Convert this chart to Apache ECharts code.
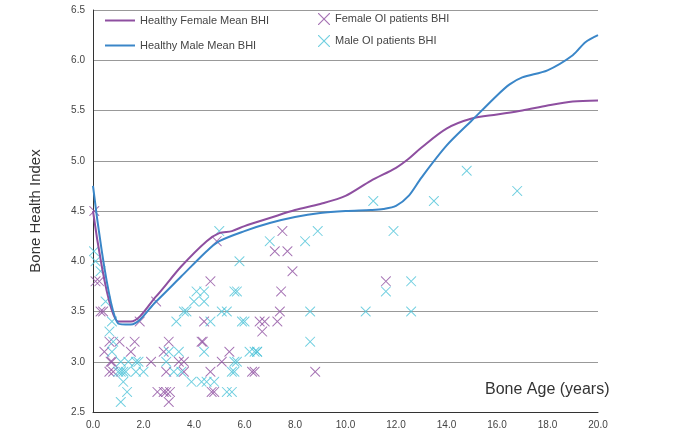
<!DOCTYPE html>
<html>
<head>
<meta charset="UTF-8">
<script src="https://cdn.jsdelivr.net/npm/echarts@6/dist/echarts.min.js"></script>
</head>
<body style="margin:0">
<div id="main" style="width:695px;height:444px"></div>
<script>
var femaleMean = [[0,4.5],[1,3.4],[1.5,3.4],[2.5,3.65],[3.5,3.95],[4.5,4.2],[5,4.28],[5.5,4.3],[6,4.35],[7,4.43],[8,4.51],[9,4.57],[10,4.65],[11,4.8],[12,4.93],[12.5,5.02],[13,5.13],[14,5.32],[15,5.42],[16,5.46],[17,5.5],[18,5.55],[19,5.59],[20,5.6]];
var maleMean = [[0,4.75],[1,3.38],[1.5,3.37],[2.5,3.6],[3.5,3.85],[4.5,4.1],[5,4.2],[6,4.3],[7,4.38],[8,4.44],[9,4.48],[10,4.5],[11,4.51],[11.5,4.52],[12,4.55],[12.5,4.65],[13,4.83],[14,5.15],[15,5.4],[16,5.65],[16.5,5.76],[17,5.83],[18,5.9],[19,6.05],[19.5,6.18],[20,6.25]];
var femaleOI = [[0.05,4.5],[0.1,3.8],[0.25,3.8],[0.3,3.5],[0.4,3.5],[0.45,3.1],[0.65,3.2],[1.05,3.2],[1.65,3.2],[0.7,3.0],[0.75,3.0],[0.65,2.9],[0.8,2.9],[1.5,3.1],[1.85,3.4],[2.5,3.6],[2.3,3.0],[2.8,3.1],[3.0,3.2],[2.9,2.9],[2.55,2.7],[2.8,2.7],[2.9,2.7],[3.05,2.7],[3.0,2.6],[3.4,3.0],[3.6,3.0],[3.6,2.9],[4.3,3.2],[4.35,3.2],[4.4,3.4],[4.65,3.8],[4.65,2.9],[4.7,2.7],[4.9,4.2],[5.4,3.1],[5.1,3.0],[6.3,2.9],[6.6,3.4],[6.8,3.4],[6.7,3.3],[7.2,4.1],[7.3,3.4],[7.4,3.5],[7.5,4.3],[7.7,4.1],[7.9,3.9],[7.45,3.7],[11.6,3.8],[6.4,2.9],[8.8,2.9],[4.8,2.7]];
var maleOI = [[0.04,4.1],[0.1,4.0],[0.3,3.9],[0.5,3.6],[0.75,3.4],[0.65,3.3],[0.8,3.2],[0.75,3.1],[1.1,3.0],[1.0,2.9],[1.1,2.9],[1.2,2.9],[1.3,2.9],[1.2,2.8],[1.35,2.7],[1.1,2.6],[1.4,3.0],[1.7,3.0],[1.8,3.0],[1.7,2.9],[2.0,2.9],[2.9,3.0],[3.0,3.1],[3.3,3.4],[3.4,3.1],[3.2,2.9],[3.5,2.9],[3.9,2.8],[4.3,2.8],[4.5,2.8],[4.8,2.8],[5.3,2.7],[5.5,2.7],[3.6,3.5],[3.7,3.5],[4.0,3.6],[4.1,3.7],[4.4,3.7],[4.4,3.6],[4.65,3.4],[5.1,3.5],[5.3,3.5],[5.6,3.7],[5.8,4.0],[6.0,3.4],[6.4,3.1],[6.5,3.1],[5.6,3.0],[5.5,2.9],[4.4,3.1],[5.0,4.3],[7.0,4.2],[5.7,3.7],[5.9,3.4],[6.2,3.1],[6.5,3.1],[5.7,3.0],[5.6,2.9],[8.4,4.2],[8.9,4.3],[8.6,3.5],[8.6,3.2],[10.8,3.5],[11.1,4.6],[11.9,4.3],[11.6,3.7],[12.6,3.8],[12.6,3.5],[13.5,4.6],[14.8,4.9],[16.8,4.7]];
var xSym = 'path://M0,0L0.7,0L10,9.3L10,10L9.3,10L0,0.7ZM10,0L10,0.7L0.7,10L0,10L0,9.3L9.3,0Z';
var lineIcon = 'path://M0,0L30,0L30,2L0,2Z';
var myChart = echarts.init(document.getElementById('main'));
myChart.setOption({
    animation: false,
    textStyle: {fontFamily: 'Liberation Sans'},
    grid: {left: 93, right: 97, top: 10, bottom: 32},
    legend: [{
        left: 100, top: 10, orient: 'vertical', itemGap: 14, itemWidth: 30, itemHeight: 2,
        icon: lineIcon,
        textStyle: {fontSize: 11, color: '#444'},
        data: ['Healthy Female Mean BHI', 'Healthy Male Mean BHI']
    }, {
        left: 313, top: 8, orient: 'vertical', itemGap: 10, itemWidth: 12, itemHeight: 12,
        textStyle: {fontSize: 11, color: '#444'},
        data: ['Female OI patients BHI', 'Male OI patients BHI']
    }],
    xAxis: {
        type: 'value', min: 0, max: 20, interval: 2,
        axisLine: {lineStyle: {color: '#333'}},
        axisTick: {show: false},
        splitLine: {show: false},
        axisLabel: {color: '#444', fontSize: 10, formatter: function (v) { return v.toFixed(1); }}
    },
    yAxis: {
        type: 'value', min: 2.5, max: 6.5, interval: 0.5,
        name: 'Bone Health Index', nameLocation: 'middle', nameGap: 50,
        nameTextStyle: {fontSize: 15, color: '#333'},
        axisLine: {show: true, lineStyle: {color: '#333'}},
        axisTick: {show: false},
        splitLine: {lineStyle: {color: '#999'}},
        axisLabel: {color: '#444', fontSize: 10, formatter: function (v) { return v.toFixed(1); }}
    },
    graphic: [{
        type: 'text', left: 485, top: 382,
        style: {text: 'Bone Age (years)', fontSize: 16, fill: '#333', fontFamily: 'Liberation Sans'}
    }],
    series: [{
        name: 'Healthy Female Mean BHI', type: 'line', smooth: 0.3, showSymbol: false,
        data: femaleMean, itemStyle: {color: '#8e4fa0'}, lineStyle: {width: 2}
    }, {
        name: 'Healthy Male Mean BHI', type: 'line', smooth: 0.3, showSymbol: false,
        data: maleMean, itemStyle: {color: '#3a86c8'}, lineStyle: {width: 2}
    }, {
        name: 'Female OI patients BHI', type: 'scatter', symbol: xSym, symbolSize: 10,
        data: femaleOI, itemStyle: {color: '#8e4fa0'}
    }, {
        name: 'Male OI patients BHI', type: 'scatter', symbol: xSym, symbolSize: 10,
        data: maleOI, itemStyle: {color: '#4ec3d8'}
    }]
});
</script>
</body>
</html>
